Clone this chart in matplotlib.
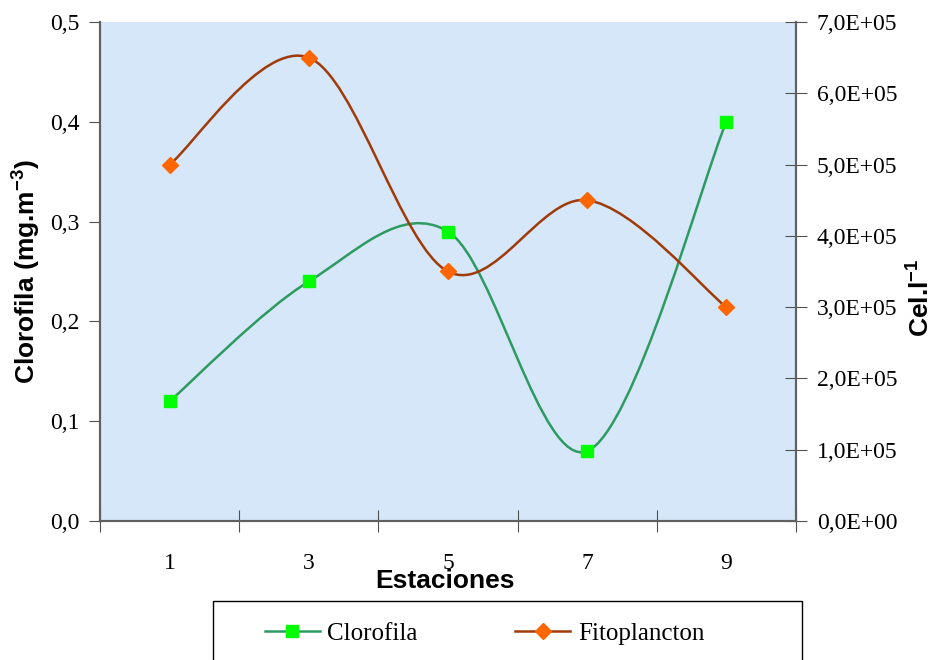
import numpy as np
import matplotlib.pyplot as plt
from matplotlib.path import Path
from matplotlib.patches import PathPatch, Rectangle
from matplotlib.lines import Line2D

# datos
estaciones = ['1', '3', '5', '7', '9']
clorofila = [0.12, 0.24, 0.29, 0.07, 0.40]
fitoplancton = [5.0e5, 6.5e5, 3.5e5, 4.5e5, 3.0e5]

serif = ['Liberation Serif', 'DejaVu Serif']
sans = ['Liberation Sans', 'DejaVu Sans']

plt.rcParams['mathtext.fontset'] = 'custom'
plt.rcParams['mathtext.rm'] = 'Liberation Sans:bold'
plt.rcParams['mathtext.bf'] = 'Liberation Sans:bold'


def suave(xs, ys):
    # curva suavizada tipo Excel (Bezier con tangentes Catmull-Rom)
    p = np.column_stack([xs, ys]).astype(float)
    n = len(p)
    verts = [p[0]]
    codes = [Path.MOVETO]
    for i in range(n - 1):
        p0 = p[i - 1] if i > 0 else p[i]
        p3 = p[i + 2] if i + 2 < n else p[i + 1]
        c1 = p[i] + (p[i + 1] - p0) / 6
        c2 = p[i + 1] - (p3 - p[i]) / 6
        verts += [c1, c2, p[i + 1]]
        codes += [Path.CURVE4] * 3
    return Path(verts, codes)


fig = plt.figure(figsize=(9.32, 6.6), dpi=100)
ax = fig.add_axes([0.1073, 0.2106, 0.7467, 0.7561])
ax2 = ax.twinx()

x = np.arange(len(estaciones))
ax.set_facecolor('#d5e7f8')

ax.add_patch(PathPatch(suave(x, clorofila), fill=False, edgecolor='#2e9a62', lw=1.8, zorder=3))
ax.plot(x, clorofila, ls='none', marker='s', ms=9, color='#00ff00', zorder=4)
ax2.add_patch(PathPatch(suave(x, fitoplancton), fill=False, edgecolor='#a03a08', lw=1.8, zorder=3))
ax2.plot(x, fitoplancton, ls='none', marker='D', ms=8.5, color='#ff6600', zorder=4)

ax.set_xlim(-0.5, len(estaciones) - 0.5)
ax.set_ylim(0, 0.5)
ax2.set_ylim(0, 7e5)

ax.set_yticks(np.arange(0, 0.51, 0.1))
ax.set_yticklabels([f'{v:.1f}'.replace('.', ',') for v in np.arange(0, 0.51, 0.1)],
                   family=serif, fontsize=17)
ax2.set_yticks(np.arange(0, 7.1e5, 1e5))
ax2.set_yticklabels([f'{v:.1f}'.replace('.', ',') + ('E+05' if v > 0 else 'E+00')
                     for v in np.arange(0, 7.1, 1)], family=serif, fontsize=17)

ax.set_xticks(np.arange(-0.5, len(estaciones), 1.0))
ax.set_xticklabels([])
ax.set_xticks(x, minor=True)
ax.set_xticklabels(estaciones, minor=True, family=serif, fontsize=17)
ax.tick_params(axis='x', which='major', direction='inout', length=16, color='#505050')
ax.tick_params(axis='x', which='minor', length=0, pad=23)
ax.tick_params(axis='y', direction='out', length=8, pad=7, color='#505050')
ax2.tick_params(axis='y', direction='inout', length=16, pad=7, color='#505050')

for a in (ax, ax2):
    a.spines['top'].set_visible(False)
    for s in ('left', 'right', 'bottom'):
        a.spines[s].set_color('#606060')
        a.spines[s].set_linewidth(1.5)

ax.set_ylabel('Clorofila (mg.m$^{\\mathbf{-3}}$)', family=sans, fontweight='bold', fontsize=19)
ax.yaxis.set_label_coords(-0.084, 0.5)
ax2.set_ylabel('Cel.l$^{\\mathbf{-1}}$', family=sans, fontweight='bold', fontsize=19, rotation=90)
ax2.yaxis.set_label_coords(1.158, 0.447)
fig.text(0.4775, 0.119, 'Estaciones', family=sans, fontweight='bold', fontsize=19,
         ha='center', va='center')

# recuadro de la leyenda (cortado en el borde inferior)
fig.patches.append(Rectangle((0.2285, -0.05), 0.632, 0.1394, transform=fig.transFigure,
                             fill=False, edgecolor='#000000', lw=1.0))

handles = [Line2D([], [], color='#2e9a62', lw=1.8, marker='s', ms=9,
                  mfc='#00ff00', mec='#00ff00'),
           Line2D([], [], color='#a03a08', lw=1.8, marker='D', ms=8.5,
                  mfc='#ff6600', mec='#ff6600')]
fig.legend(handles, ['Clorofila', 'Fitoplancton'], ncol=2,
           loc='center left', bbox_to_anchor=(0.2843, 0.0394),
           frameon=False, borderpad=0, borderaxespad=0,
           prop={'family': serif, 'size': 18},
           handlelength=2.2, handletextpad=0.3, columnspacing=3.9)

fig.savefig('out.png', dpi=100)
